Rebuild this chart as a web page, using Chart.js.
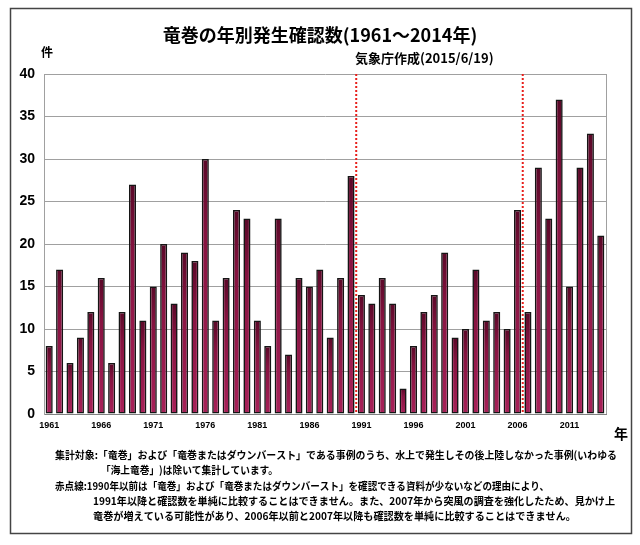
<!DOCTYPE html>
<html>
<head>
<meta charset="utf-8">
<script src="https://cdn.jsdelivr.net/npm/chart.js@4"></script>
<style>
  body { margin: 0; background: #fff; }
  #wrap { width: 640px; height: 545px; }
</style>
</head>
<body>
<div id="wrap"><canvas id="tornadoChart" width="640" height="545"></canvas></div>
<script>
// 竜巻の年別発生確認数 (1961〜2014)
const years = [
    '1961', '1962', '1963', '1964', '1965', '1966', '1967', '1968', '1969', '1970',
    '1971', '1972', '1973', '1974', '1975', '1976', '1977', '1978', '1979', '1980',
    '1981', '1982', '1983', '1984', '1985', '1986', '1987', '1988', '1989', '1990',
    '1991', '1992', '1993', '1994', '1995', '1996', '1997', '1998', '1999', '2000',
    '2001', '2002', '2003', '2004', '2005', '2006', '2007', '2008', '2009', '2010',
    '2011', '2012', '2013', '2014'
];
const counts = [
    8, 17, 6, 9, 12, 16, 6, 12, 27, 11,
    15, 20, 13, 19, 18, 30, 11, 16, 24, 23,
    11, 8, 23, 7, 16, 15, 17, 9, 16, 28,
    14, 13, 16, 13, 3, 8, 12, 14, 19, 9,
    10, 17, 11, 12, 10, 24, 12, 29, 23, 37,
    15, 29, 33, 21
];
const shownYears = ['1961', '1966', '1971', '1976', '1981', '1986', '1991', '1996', '2001', '2006', '2011'];
// 赤点線: 1990/1991 と 2006/2007 の間
const breakYears = [['1990', '1991'], ['2006', '2007']];

const titleText = '竜巻の年別発生確認数(1961～2014年)';
const sourceText = '気象庁作成(2015/6/19)';
const notes = [
    { x: 55, y: 455, w: 562, text: '集計対象:「竜巻」および「竜巻またはダウンバースト」である事例のうち、水上で発生しその後上陸しなかった事例(いわゆる' },
    { x: 101, y: 470, w: 177, text: '「海上竜巻」)は除いて集計しています。' },
    { x: 55, y: 486, w: 494, text: '赤点線:1990年以前は「竜巻」および「竜巻またはダウンバースト」を確認できる資料が少ないなどの理由により、' },
    { x: 93, y: 501, w: 522, text: '1991年以降と確認数を単純に比較することはできません。また、2007年から突風の調査を強化したため、見かけ上' },
    { x: 93, y: 516, w: 483, text: '竜巻が増えている可能性があり、2006年以前と2007年以降も確認数を単純に比較することはできません。' }
];

const jpFont = '"Noto Sans CJK JP", "Noto Sans", sans-serif';

// 棒ごとに上が濃いグラデーション
function barFill(context) {
    const chart = context.chart;
    const area = chart.chartArea;
    if (!area || !chart.scales.y) return '#8c1846';
    const top = chart.scales.y.getPixelForValue(counts[context.dataIndex]);
    const g = chart.ctx.createLinearGradient(0, top, 0, area.bottom);
    g.addColorStop(0, '#5a0828');
    g.addColorStop(0.3, '#861340');
    g.addColorStop(1, '#a82159');
    return g;
}

const decorations = {
    id: 'decorations',
    beforeDraw(chart) {
        const ctx = chart.ctx;
        ctx.save();
        ctx.fillStyle = '#fff';
        ctx.fillRect(0, 0, chart.width, chart.height);
        ctx.restore();
    },
    afterDatasetsDraw(chart) {
        const ctx = chart.ctx;
        const area = chart.chartArea;
        const x = chart.scales.x;

        // 右端の枠線
        ctx.save();
        ctx.strokeStyle = '#a0a0a0';
        ctx.lineWidth = 1;
        ctx.beginPath();
        ctx.moveTo(area.right + 0.5, area.top);
        ctx.lineTo(area.right + 0.5, area.bottom);
        ctx.stroke();

        // 赤点線
        ctx.strokeStyle = '#e8201c';
        ctx.lineWidth = 2;
        ctx.setLineDash([2, 2]);
        breakYears.forEach(pair => {
            const px = (x.getPixelForValue(years.indexOf(pair[0])) + x.getPixelForValue(years.indexOf(pair[1]))) / 2;
            ctx.beginPath();
            ctx.moveTo(px, area.top);
            ctx.lineTo(px, area.bottom);
            ctx.stroke();
        });
        ctx.restore();
    },
    afterDraw(chart) {
        const ctx = chart.ctx;
        ctx.save();

        // 外枠
        ctx.strokeStyle = '#444';
        ctx.lineWidth = 1.5;
        ctx.strokeRect(10.5, 8.5, 621, 525);

        ctx.fillStyle = '#000';
        ctx.textBaseline = 'middle';

        // タイトル
        ctx.textAlign = 'center';
        ctx.font = 'bold 18px ' + jpFont;
        ctx.fillText(titleText, 320, 35, 316);

        ctx.textAlign = 'left';
        ctx.font = 'bold 13px ' + jpFont;
        ctx.fillText(sourceText, 355, 58, 142);

        ctx.font = 'bold 12px ' + jpFont;
        ctx.fillText('件', 41, 52);

        ctx.font = 'bold 14px ' + jpFont;
        ctx.fillText('年', 614, 434);

        // 注記
        ctx.font = 'bold 10.5px ' + jpFont;
        notes.forEach(n => ctx.fillText(n.text, n.x, n.y, n.w));

        ctx.restore();
    }
};

new Chart(document.getElementById('tornadoChart').getContext('2d'), {
    type: 'bar',
    data: {
        labels: years,
        datasets: [{
            label: '確認数',
            data: counts,
            backgroundColor: barFill,
            borderColor: '#151515',
            borderWidth: 1.6,
            borderSkipped: false,
            categoryPercentage: 1.0,
            barPercentage: 0.68
        }]
    },
    options: {
        responsive: false,
        animation: false,
        devicePixelRatio: 1,
        layout: {
            padding: { left: 10, right: 34, top: 74, bottom: 111 }
        },
        plugins: {
            legend: { display: false },
            tooltip: { enabled: false },
            title: { display: false }
        },
        scales: {
            x: {
                grid: { display: false, drawTicks: false },
                border: { display: true, color: '#808080', width: 1 },
                afterFit: s => { s.height = 20; },
                ticks: {
                    autoSkip: false,
                    maxRotation: 0,
                    padding: 6,
                    color: '#000',
                    font: { family: '"Liberation Sans", Arial, sans-serif', size: 9, weight: 'bold' },
                    callback: function(value) {
                        const label = this.getLabelForValue(value);
                        return shownYears.includes(label) ? label : '';
                    }
                }
            },
            y: {
                min: 0,
                max: 40,
                ticks: {
                    stepSize: 5,
                    padding: 9,
                    color: '#000',
                    font: { family: '"Liberation Sans", Arial, sans-serif', size: 14, weight: 'bold' }
                },
                afterFit: s => { s.width = 34; },
                grid: { color: '#a0a0a0', lineWidth: 1, drawTicks: false },
                border: { display: true, color: '#a0a0a0', width: 1 }
            }
        }
    },
    plugins: [decorations]
});
</script>
</body>
</html>
